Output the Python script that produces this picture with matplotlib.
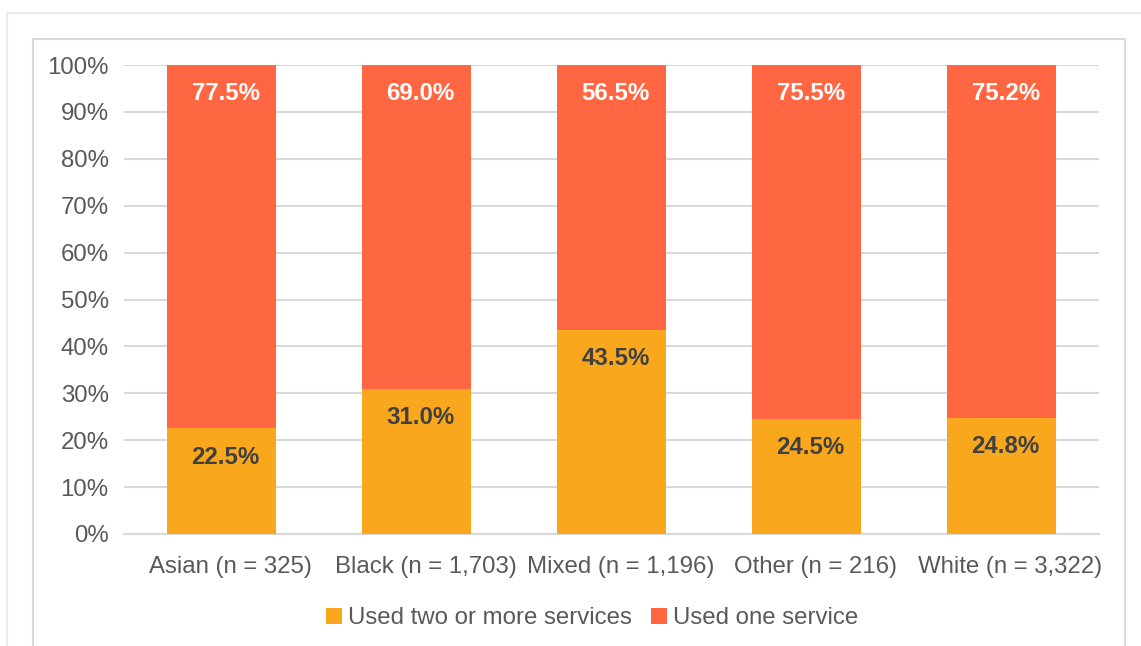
import matplotlib
matplotlib.use("Agg")
import matplotlib.pyplot as plt
from matplotlib.patches import Rectangle
from matplotlib.ticker import FuncFormatter, MultipleLocator
from matplotlib.transforms import ScaledTranslation

plt.rcParams['font.family'] = ['Liberation Sans', 'DejaVu Sans']

categories = ["Asian (n = 325)", "Black (n = 1,703)", "Mixed (n = 1,196)",
              "Other (n = 216)", "White (n = 3,322)"]
two_or_more = [22.5, 31.0, 43.5, 24.5, 24.8]
one_service = [77.5, 69.0, 56.5, 75.5, 75.2]
series_names = ["Used two or more services", "Used one service"]

c_two = "#F9A81E"
c_one = "#FF6641"
grey_text = "#595959"
grid_col = "#D9D9D9"
fs = 17.3

W, H = 1141, 646
fig = plt.figure(figsize=(W / 100, H / 100), dpi=100)

# background frames
fig.patches.append(Rectangle((7 / W, -0.1), 1.2, 1 - 13 / H + 0.1, transform=fig.transFigure,
                             fill=False, edgecolor="#EBEBEB", linewidth=1.5, zorder=0))
fig.patches.append(Rectangle((33 / W, -0.1), (1125 - 33) / W, 1 - 39 / H + 0.1,
                             transform=fig.transFigure, fill=False, edgecolor="#D9D9D9",
                             linewidth=1.5, zorder=0))

ax = fig.add_axes([124 / W, 1 - 534 / H, (1099 - 124) / W, (534 - 65) / H])
x = list(range(len(categories)))
bw = 0.555
b1 = ax.bar(x, two_or_more, width=bw, color=c_two, label=series_names[0], zorder=3)
b2 = ax.bar(x, one_service, width=bw, bottom=two_or_more, color=c_one,
            label=series_names[1], zorder=3)

for i in x:
    ax.annotate(f"{two_or_more[i]:.1f}%", (i, two_or_more[i]), xytext=(3, -20.7),
                textcoords="offset points", ha="center", va="center",
                fontsize=fs, fontweight="bold", color="#404040", zorder=4)
    top = two_or_more[i] + one_service[i]
    ax.annotate(f"{one_service[i]:.1f}%", (i, top), xytext=(3, -20.7),
                textcoords="offset points", ha="center", va="center",
                fontsize=fs, fontweight="bold", color="white", zorder=4)

ax.set_xlim(-0.5, len(categories) - 0.5)
ax.set_ylim(0, 100)
ax.yaxis.set_major_locator(MultipleLocator(10))
ax.yaxis.set_major_formatter(FuncFormatter(lambda v, p: f"{v:.0f}%"))
ax.grid(axis="y", color=grid_col, linewidth=1.5, zorder=0)
ax.set_axisbelow(True)
for s in ["top", "right", "left"]:
    ax.spines[s].set_visible(False)
ax.spines["bottom"].set_color(grid_col)
ax.spines["bottom"].set_linewidth(1.5)
ax.set_xticks(x)
ax.set_xticklabels(categories)
ax.tick_params(axis="both", length=0, labelsize=fs, labelcolor=grey_text)
ax.tick_params(axis="y", pad=11)
ax.tick_params(axis="x", pad=16)
shift = ScaledTranslation(9 / 100, 0, fig.dpi_scale_trans)
for lbl in ax.get_xticklabels():
    lbl.set_transform(lbl.get_transform() + shift)

fig.legend(handles=[b1, b2], labels=series_names, loc="center",
           bbox_to_anchor=(592 / W, 1 - 618 / H), ncol=2, frameon=False,
           fontsize=fs, labelcolor=grey_text, handlelength=0.65, handleheight=0.65,
           handletextpad=0.25, columnspacing=0.8)

fig.savefig("out.png", dpi=100)
